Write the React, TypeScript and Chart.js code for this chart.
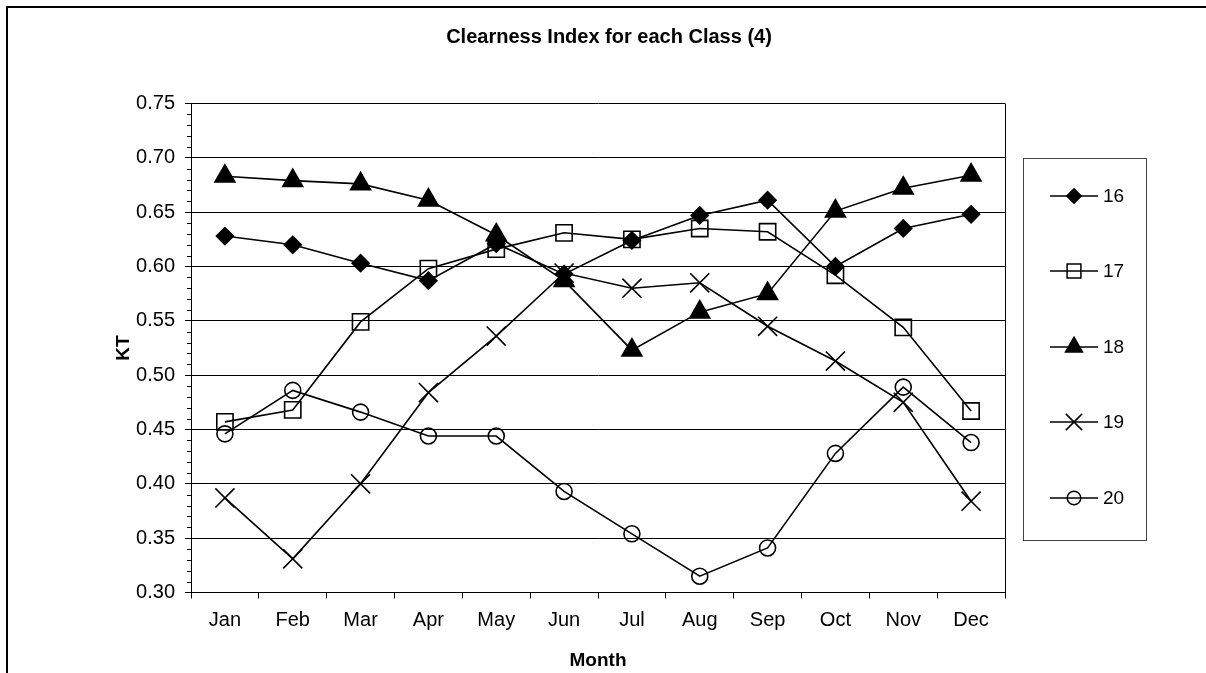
import React, { useEffect, useRef } from 'react';
import { Chart, registerables } from 'chart.js';

Chart.register(...registerables);

const months = ['Jan', 'Feb', 'Mar', 'Apr', 'May', 'Jun', 'Jul', 'Aug', 'Sep', 'Oct', 'Nov', 'Dec'];
const seriesNames = ['16', '17', '18', '19', '20'];
const class16 = [0.628, 0.620, 0.603, 0.587, 0.621, 0.593, 0.624, 0.647, 0.661, 0.600, 0.635, 0.648];
const class17 = [0.457, 0.468, 0.549, 0.598, 0.616, 0.631, 0.625, 0.635, 0.632, 0.592, 0.544, 0.467];
const class18 = [0.683, 0.679, 0.676, 0.661, 0.629, 0.587, 0.523, 0.558, 0.575, 0.651, 0.672, 0.684];
const class19 = [0.387, 0.331, 0.400, 0.484, 0.536, 0.594, 0.580, 0.585, 0.545, 0.513, 0.475, 0.384];
const class20 = [0.446, 0.486, 0.466, 0.444, 0.444, 0.393, 0.354, 0.315, 0.341, 0.428, 0.489, 0.438];
const yMin = 0.3;
const yMax = 0.75;
const yStep = 0.05;
const yMinorStep = 0.01;

const titleText = 'Clearness Index for each Class (4)';
const xTitle = 'Month';
const yTitle = 'KT';

const FONT = '"Liberation Sans", Arial, sans-serif';

type MarkerDef = { style: string; radius: number; fill: string };
const markers: MarkerDef[] = [
  { style: 'rectRot', radius: 8.5, fill: '#000' },
  { style: 'rect', radius: 11.5, fill: 'rgba(0,0,0,0)' },
  { style: 'triangle', radius: 11.5, fill: '#000' },
  { style: 'crossRot', radius: 13.5, fill: '#000' },
  { style: 'circle', radius: 8, fill: 'rgba(0,0,0,0)' },
];

function drawMarker(ctx: CanvasRenderingContext2D, style: string, x: number, y: number, r: number, fill: string) {
  ctx.save();
  ctx.beginPath();
  ctx.strokeStyle = '#000';
  ctx.fillStyle = fill;
  ctx.lineWidth = 1.5;
  if (style === 'rectRot') {
    ctx.moveTo(x, y - r);
    ctx.lineTo(x + r, y);
    ctx.lineTo(x, y + r);
    ctx.lineTo(x - r, y);
    ctx.closePath();
    ctx.fill();
    ctx.stroke();
  } else if (style === 'rect') {
    const s = r * Math.SQRT1_2;
    ctx.rect(x - s, y - s, 2 * s, 2 * s);
    ctx.stroke();
  } else if (style === 'triangle') {
    ctx.moveTo(x, y - r);
    ctx.lineTo(x + r * Math.sin(Math.PI / 3), y + r / 2);
    ctx.lineTo(x - r * Math.sin(Math.PI / 3), y + r / 2);
    ctx.closePath();
    ctx.fill();
    ctx.stroke();
  } else if (style === 'crossRot') {
    const s = r * Math.SQRT1_2;
    ctx.moveTo(x - s, y - s);
    ctx.lineTo(x + s, y + s);
    ctx.moveTo(x + s, y - s);
    ctx.lineTo(x - s, y + s);
    ctx.stroke();
  } else {
    ctx.arc(x, y, r, 0, Math.PI * 2);
    ctx.stroke();
  }
  ctx.restore();
}

const decorPlugin = {
  id: 'decor',
  afterDraw(chart: any) {
    const ctx: CanvasRenderingContext2D = chart.ctx;
    const area = chart.chartArea;
    const yScale = chart.scales.y;
    ctx.save();
    // outer border (top & left)
    ctx.fillStyle = '#000';
    ctx.fillRect(6, 6, 1200, 2);
    ctx.fillRect(6, 6, 2, 667);
    // plot right border
    ctx.strokeStyle = '#000';
    ctx.lineWidth = 1;
    ctx.beginPath();
    ctx.moveTo(Math.round(area.right) + 0.5, area.top);
    ctx.lineTo(Math.round(area.right) + 0.5, area.bottom);
    ctx.stroke();
    // minor ticks on y axis
    const n = Math.round((yMax - yMin) / yMinorStep);
    ctx.beginPath();
    for (let i = 0; i <= n; i++) {
      if (i % 5 === 0) continue;
      const v = yMin + i * yMinorStep;
      const py = Math.round(yScale.getPixelForValue(v)) + 0.5;
      ctx.moveTo(area.left - 4, py);
      ctx.lineTo(area.left, py);
    }
    ctx.stroke();
    // title
    ctx.fillStyle = '#000';
    ctx.textAlign = 'center';
    ctx.textBaseline = 'middle';
    ctx.font = `bold 20px ${FONT}`;
    ctx.fillText(titleText, 609, 37);
    // axis titles
    ctx.font = `bold 19px ${FONT}`;
    ctx.fillText(xTitle, (area.left + area.right) / 2, 661);
    ctx.save();
    ctx.translate(124, (area.top + area.bottom) / 2);
    ctx.rotate(-Math.PI / 2);
    ctx.fillText(yTitle, 0, 0);
    ctx.restore();
    // legend
    const bx = 1023.5, by = 158.5, bw = 123, bh = 382;
    ctx.strokeStyle = '#444';
    ctx.lineWidth = 1;
    ctx.strokeRect(bx, by, bw, bh);
    const ys = [196, 271, 347, 422, 498];
    chart.data.datasets.forEach((ds: any, i: number) => {
      const ly = ys[i];
      ctx.strokeStyle = '#000';
      ctx.lineWidth = 1.5;
      ctx.beginPath();
      ctx.moveTo(1050, ly);
      ctx.lineTo(1098, ly);
      ctx.stroke();
      const m = markers[i];
      drawMarker(ctx, m.style, 1074, ly, m.radius * 0.85, m.fill);
      ctx.fillStyle = '#000';
      ctx.textAlign = 'left';
      ctx.textBaseline = 'middle';
      ctx.font = `19px ${FONT}`;
      ctx.fillText(ds.label, 1103, ly + 1);
    });
    ctx.restore();
  },
};

export default function App() {
  const ref = useRef<HTMLCanvasElement | null>(null);
  useEffect(() => {
    document.body.style.margin = '0';
    if (!ref.current) return;
    const allSeries = [class16, class17, class18, class19, class20];
    const chart = new Chart(ref.current, {
      type: 'line',
      data: {
        labels: months,
        datasets: allSeries.map((d, i) => ({
          label: seriesNames[i],
          data: d,
          borderColor: '#000',
          borderWidth: 1.6,
          backgroundColor: markers[i].fill,
          pointStyle: markers[i].style as any,
          pointRadius: markers[i].radius,
          pointHoverRadius: markers[i].radius,
          pointBorderColor: '#000',
          pointBackgroundColor: markers[i].fill,
          pointBorderWidth: 1.6,
          fill: false,
          tension: 0,
        })),
      },
      options: {
        animation: false,
        responsive: true,
        maintainAspectRatio: false,
        layout: { padding: { left: 0, top: 103.5, right: 201, bottom: 0 } },
        plugins: {
          legend: { display: false },
          title: { display: false },
          tooltip: { enabled: false },
        },
        scales: {
          x: {
            type: 'category',
            offset: true,
            grid: { offset: true, drawOnChartArea: false, tickLength: 6, color: '#000', lineWidth: 1 },
            border: { display: true, color: '#000', width: 1 },
            ticks: { color: '#000', font: { family: FONT, size: 20 }, padding: 10, maxRotation: 0, autoSkip: false },
            afterFit: (scale: any) => { scale.height = 80.5; },
          },
          y: {
            type: 'linear',
            min: yMin,
            max: yMax,
            grid: { color: '#000', lineWidth: 1, tickLength: 6 },
            border: { display: true, color: '#000', width: 1 },
            ticks: {
              stepSize: yStep,
              color: '#000',
              font: { family: FONT, size: 20 },
              padding: 10,
              callback: (v: any) => Number(v).toFixed(2),
            },
            afterFit: (scale: any) => { scale.width = 191; },
          },
        },
      },
      plugins: [decorPlugin],
    });
    return () => chart.destroy();
  }, []);
  return (
    <div style={{ position: 'absolute', left: 0, top: 0, width: 1206, height: 673, background: '#fff' }}>
      <canvas ref={ref} />
    </div>
  );
}
